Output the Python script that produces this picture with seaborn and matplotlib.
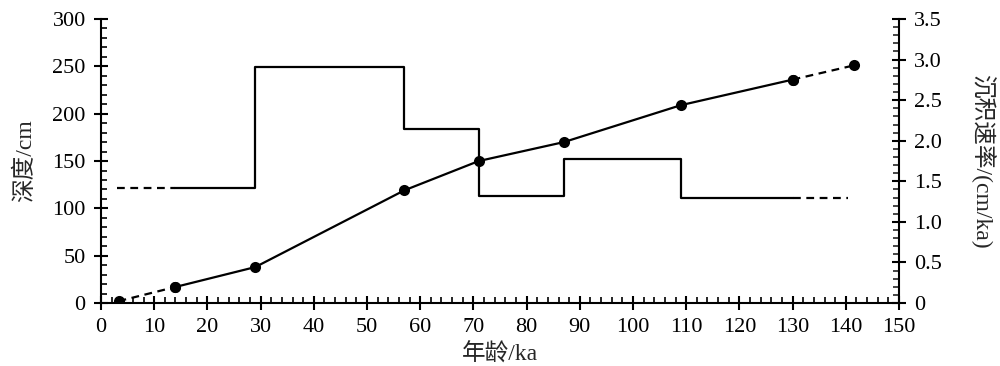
import matplotlib
matplotlib.use("Agg")
import matplotlib.pyplot as plt
import seaborn as sns
import pandas as pd
from matplotlib.ticker import MultipleLocator, FuncFormatter

# ---- data ----
age_pts = [3.3, 14, 29, 57, 71, 87, 109, 130, 141.5]
depth_pts = [2, 17, 38, 119, 150, 170, 209, 236, 251]

step_edges = [14, 29, 57, 71, 87, 109, 130]
step_rates = [1.42, 2.91, 2.145, 1.32, 1.776, 1.295]
rate_ext_left_age = [3.0, 14]
rate_ext_right_age = [130, 140.5]

x_ticks = list(range(0, 151, 10))
y_left_ticks = list(range(0, 301, 50))
y_right_ticks = [0, 0.5, 1.0, 1.5, 2.0, 2.5, 3.0, 3.5]

sns.set_theme(style="white")
plt.rcParams['font.family'] = ['Liberation Serif', 'Noto Sans CJK SC']
plt.rcParams['axes.unicode_minus'] = False

fig = plt.figure(figsize=(10, 3.66), dpi=100)
ax = fig.add_axes([0.101, 0.172, 0.798, 0.776])
ax2 = ax.twinx()

LW = 1.6
dash = (0, (3.5, 2.5))

# depth curve
solid = pd.DataFrame({"age": age_pts[1:-1], "depth": depth_pts[1:-1]})
sns.lineplot(data=solid, x="age", y="depth", ax=ax, color="black", lw=LW,
             marker="o", markersize=8, markeredgewidth=0)
for sl in [slice(0, 2), slice(-2, None)]:
    d = pd.DataFrame({"age": age_pts[sl], "depth": depth_pts[sl]})
    sns.lineplot(data=d, x="age", y="depth", ax=ax, color="black", lw=LW,
                 linestyle=dash, marker="o", markersize=8, markeredgewidth=0)

# rate steps
st = pd.DataFrame({"age": step_edges, "rate": step_rates + [step_rates[-1]]})
sns.lineplot(data=st, x="age", y="rate", ax=ax2, color="black", lw=LW,
             drawstyle="steps-post")
sns.lineplot(x=rate_ext_left_age, y=[step_rates[0]] * 2, ax=ax2, color="black",
             lw=LW, linestyle=dash)
sns.lineplot(x=rate_ext_right_age, y=[step_rates[-1]] * 2, ax=ax2, color="black",
             lw=LW, linestyle=dash)

ax.set_xlim(0, 150)
ax.set_ylim(0, 300)
ax2.set_ylim(0, 3.5)

ax.set_xticks(x_ticks)
ax.set_yticks(y_left_ticks)
ax2.set_yticks(y_right_ticks)
ax2.yaxis.set_major_formatter(FuncFormatter(lambda v, p: "0" if v == 0 else f"{v:.1f}"))
ax.xaxis.set_minor_locator(MultipleLocator(2))
ax.yaxis.set_minor_locator(MultipleLocator(10))
ax2.yaxis.set_minor_locator(MultipleLocator(0.1))

for a in (ax, ax2):
    for s in a.spines.values():
        s.set_color("black")
        s.set_linewidth(1.5)
    a.spines["top"].set_visible(False)
ax2.spines["left"].set_visible(False)
ax2.spines["bottom"].set_visible(False)
ax.spines["right"].set_visible(False)

ax.tick_params(axis="both", which="major", direction="inout", length=10, width=1.5,
               labelsize=16, colors="black", pad=6)
ax.tick_params(axis="both", which="minor", direction="in", length=4.5, width=1.2, colors="black")
ax.tick_params(left=True, bottom=True, which="both")
ax2.tick_params(axis="y", which="major", direction="inout", length=10, width=1.5,
                labelsize=16, colors="black", right=True, pad=6)
ax2.tick_params(axis="y", which="minor", direction="in", length=4.5, width=1.2, right=True)

ax.set_xlabel("年龄/ka", fontsize=17, labelpad=4)
ax.set_ylabel("深度/cm", fontsize=17, labelpad=12)
ax2.set_ylabel("沉积速率/(cm/ka)", fontsize=17, rotation=270, labelpad=38)

fig.savefig("out.png", dpi=100)
